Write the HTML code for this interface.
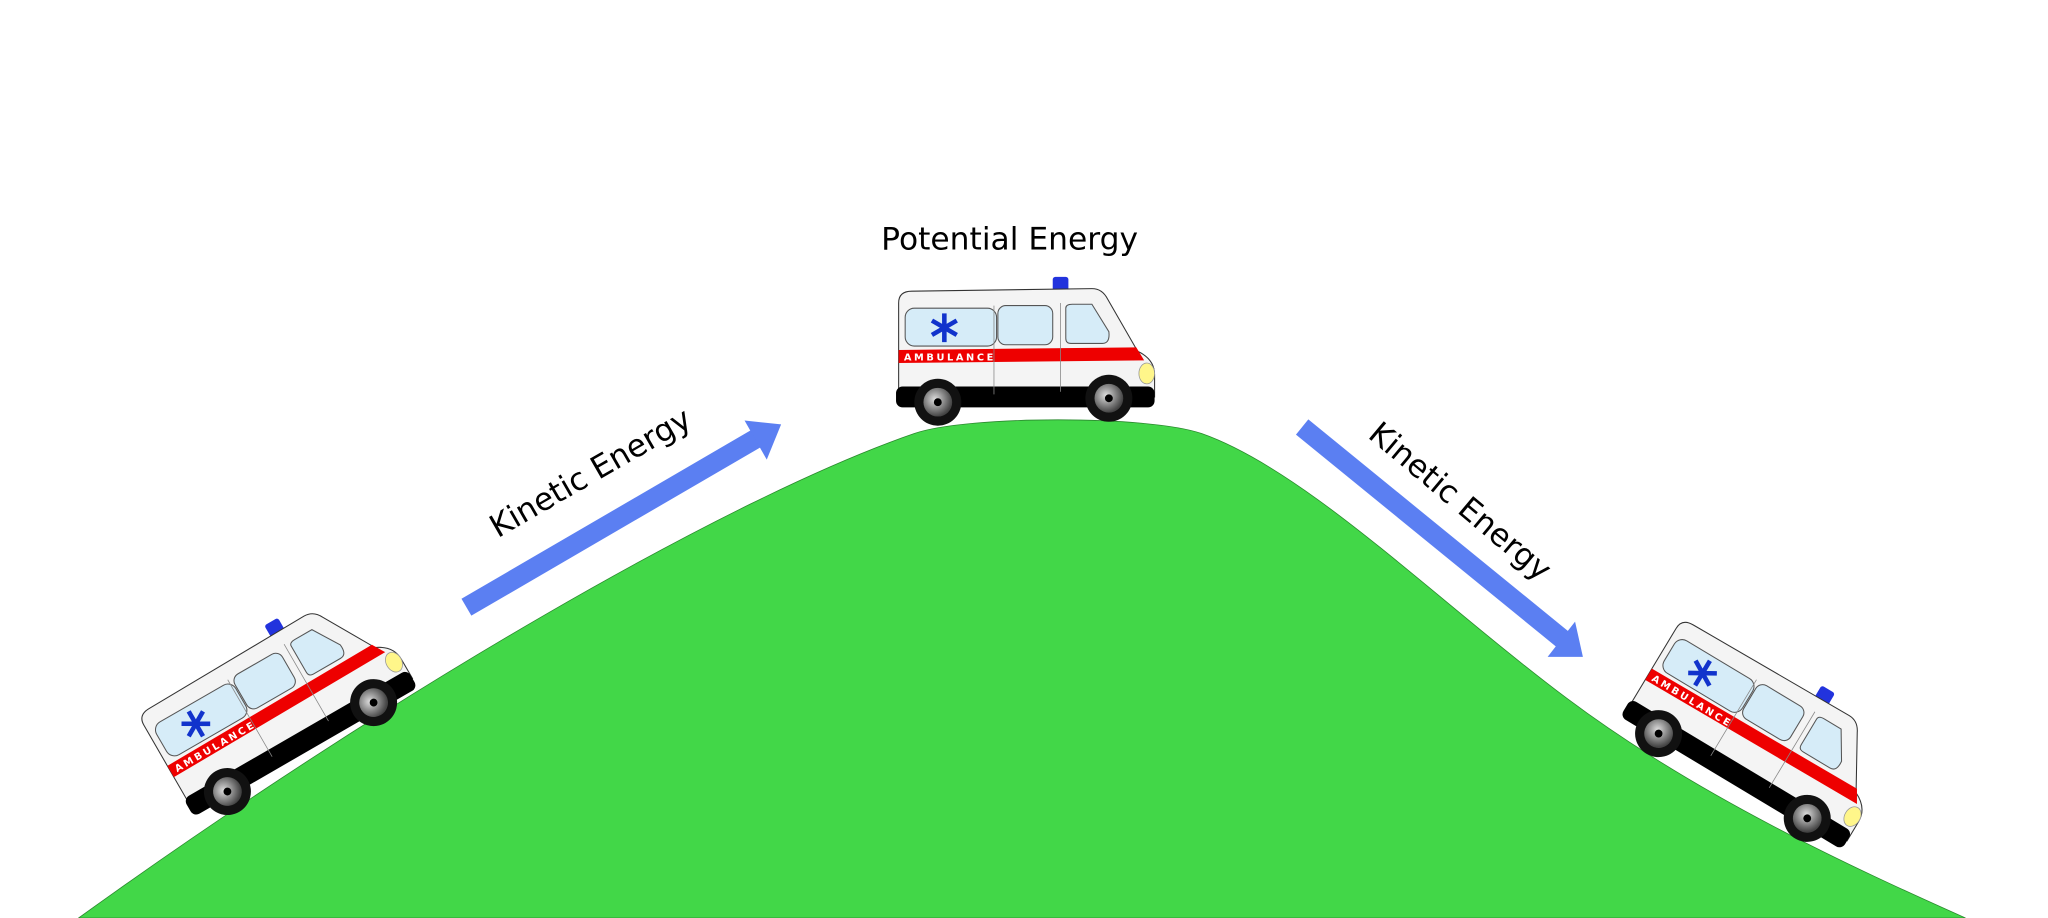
<!DOCTYPE html>
<html><head><meta charset="utf-8"><style>
html,body{margin:0;padding:0;background:#fff;width:2048px;height:918px;overflow:hidden}
svg{display:block}
text{font-family:"DejaVu Sans","Liberation Sans",sans-serif}
</style></head><body>
<svg width="2048" height="918" viewBox="0 0 1568 703" xmlns="http://www.w3.org/2000/svg">
<defs>
<radialGradient id="wg" cx="0.4" cy="0.4" r="0.6"><stop offset="0" stop-color="#ddd"/><stop offset="1" stop-color="#444"/></radialGradient>
</defs>
<rect width="1568" height="703" fill="#fff"/>
<path d="M60,703 C300,530 560,380 700,332 C740,318 880,318 920,332 C1000,360 1100,460 1200,535 C1300,610 1420,665 1505,703 Z" fill="#42d748" stroke="#2a8a2e" stroke-width="0.6"/>
<line x1="357" y1="465" x2="582" y2="334" stroke="#5b7ff2" stroke-width="15"/>
<polygon points="570,322 598,325 587,352" fill="#5b7ff2"/>
<line x1="997" y1="327" x2="1197" y2="490" stroke="#5b7ff2" stroke-width="15"/>
<polygon points="1185,503 1212,503 1206,476" fill="#5b7ff2"/>
<text x="452" y="370" font-size="24" text-anchor="middle" transform="rotate(-30 452 362)">Kinetic Energy</text>
<text x="1118" y="392" font-size="24" text-anchor="middle" transform="rotate(40 1118 384)">Kinetic Energy</text>
<text x="773" y="191" font-size="24" text-anchor="middle">Potential Energy</text>

<g transform="translate(785,268) translate(-99,-56)">
<rect x="120" y="0" width="12" height="11" rx="2" fill="#2233dd"/>
<path d="M2,20 Q2,11 12,11 L150,9 Q158,9 162,17 L185,57 Q198,63 198,75 L198,92 L2,92 Z" fill="#f4f4f4" stroke="#333" stroke-width="0.8"/>
<rect x="0" y="84" width="198" height="16" rx="5" fill="#000"/>
<path d="M2,56 L184,54 L190,64 L2,66 Z" fill="#e00"/>
<text x="6" y="64" font-size="7.5" font-weight="bold" fill="#fff" letter-spacing="2">AMBULANCE</text>
<rect x="7" y="24" width="70" height="29" rx="7" fill="#d6ecf8" stroke="#555" stroke-width="0.8"/>
<rect x="78" y="22" width="42" height="30" rx="6" fill="#d6ecf8" stroke="#555" stroke-width="0.8"/>
<path d="M130,24 Q130,21 135,21 L150,21 L163,42 Q164,51 158,51 L134,51 Q130,51 130,47 Z" fill="#d6ecf8" stroke="#555" stroke-width="0.8"/>
<g stroke="#1133cc" stroke-width="3.5" transform="translate(37,39)"><line x1="0" y1="-11" x2="0" y2="11"/><line x1="-9.5" y1="-5.5" x2="9.5" y2="5.5"/><line x1="-9.5" y1="5.5" x2="9.5" y2="-5.5"/></g>
<line x1="75" y1="22" x2="75" y2="90" stroke="#888" stroke-width="0.6"/>
<line x1="126" y1="20" x2="126" y2="88" stroke="#888" stroke-width="0.6"/>
<ellipse cx="192" cy="74" rx="6" ry="8" fill="#fff68a" stroke="#999" stroke-width="0.6"/>
<circle cx="32" cy="96" r="18" fill="#111"/><circle cx="32" cy="96" r="11" fill="url(#wg)"/><circle cx="32" cy="96" r="3" fill="#000"/>
<circle cx="163" cy="93" r="18" fill="#111"/><circle cx="163" cy="93" r="11" fill="url(#wg)"/><circle cx="163" cy="93" r="3" fill="#000"/>
</g>

<g transform="translate(212,538) rotate(-30) translate(-99,-56)">
<rect x="120" y="0" width="12" height="11" rx="2" fill="#2233dd"/>
<path d="M2,20 Q2,11 12,11 L150,9 Q158,9 162,17 L185,57 Q198,63 198,75 L198,92 L2,92 Z" fill="#f4f4f4" stroke="#333" stroke-width="0.8"/>
<rect x="0" y="84" width="198" height="16" rx="5" fill="#000"/>
<path d="M2,56 L184,54 L190,64 L2,66 Z" fill="#e00"/>
<text x="6" y="64" font-size="7.5" font-weight="bold" fill="#fff" letter-spacing="2">AMBULANCE</text>
<rect x="7" y="24" width="70" height="29" rx="7" fill="#d6ecf8" stroke="#555" stroke-width="0.8"/>
<rect x="78" y="22" width="42" height="30" rx="6" fill="#d6ecf8" stroke="#555" stroke-width="0.8"/>
<path d="M130,24 Q130,21 135,21 L150,21 L163,42 Q164,51 158,51 L134,51 Q130,51 130,47 Z" fill="#d6ecf8" stroke="#555" stroke-width="0.8"/>
<g stroke="#1133cc" stroke-width="3.5" transform="translate(37,39)"><line x1="0" y1="-11" x2="0" y2="11"/><line x1="-9.5" y1="-5.5" x2="9.5" y2="5.5"/><line x1="-9.5" y1="5.5" x2="9.5" y2="-5.5"/></g>
<line x1="75" y1="22" x2="75" y2="90" stroke="#888" stroke-width="0.6"/>
<line x1="126" y1="20" x2="126" y2="88" stroke="#888" stroke-width="0.6"/>
<ellipse cx="192" cy="74" rx="6" ry="8" fill="#fff68a" stroke="#999" stroke-width="0.6"/>
<circle cx="32" cy="96" r="18" fill="#111"/><circle cx="32" cy="96" r="11" fill="url(#wg)"/><circle cx="32" cy="96" r="3" fill="#000"/>
<circle cx="163" cy="93" r="18" fill="#111"/><circle cx="163" cy="93" r="11" fill="url(#wg)"/><circle cx="163" cy="93" r="3" fill="#000"/>
</g>

<g transform="translate(1348,562) rotate(31) translate(-99,-56)">
<rect x="120" y="0" width="12" height="11" rx="2" fill="#2233dd"/>
<path d="M2,20 Q2,11 12,11 L150,9 Q158,9 162,17 L185,57 Q198,63 198,75 L198,92 L2,92 Z" fill="#f4f4f4" stroke="#333" stroke-width="0.8"/>
<rect x="0" y="84" width="198" height="16" rx="5" fill="#000"/>
<path d="M2,56 L184,54 L190,64 L2,66 Z" fill="#e00"/>
<text x="6" y="64" font-size="7.5" font-weight="bold" fill="#fff" letter-spacing="2">AMBULANCE</text>
<rect x="7" y="24" width="70" height="29" rx="7" fill="#d6ecf8" stroke="#555" stroke-width="0.8"/>
<rect x="78" y="22" width="42" height="30" rx="6" fill="#d6ecf8" stroke="#555" stroke-width="0.8"/>
<path d="M130,24 Q130,21 135,21 L150,21 L163,42 Q164,51 158,51 L134,51 Q130,51 130,47 Z" fill="#d6ecf8" stroke="#555" stroke-width="0.8"/>
<g stroke="#1133cc" stroke-width="3.5" transform="translate(37,39)"><line x1="0" y1="-11" x2="0" y2="11"/><line x1="-9.5" y1="-5.5" x2="9.5" y2="5.5"/><line x1="-9.5" y1="5.5" x2="9.5" y2="-5.5"/></g>
<line x1="75" y1="22" x2="75" y2="90" stroke="#888" stroke-width="0.6"/>
<line x1="126" y1="20" x2="126" y2="88" stroke="#888" stroke-width="0.6"/>
<ellipse cx="192" cy="74" rx="6" ry="8" fill="#fff68a" stroke="#999" stroke-width="0.6"/>
<circle cx="32" cy="96" r="18" fill="#111"/><circle cx="32" cy="96" r="11" fill="url(#wg)"/><circle cx="32" cy="96" r="3" fill="#000"/>
<circle cx="163" cy="93" r="18" fill="#111"/><circle cx="163" cy="93" r="11" fill="url(#wg)"/><circle cx="163" cy="93" r="3" fill="#000"/>
</g>
</svg>
</body></html>
